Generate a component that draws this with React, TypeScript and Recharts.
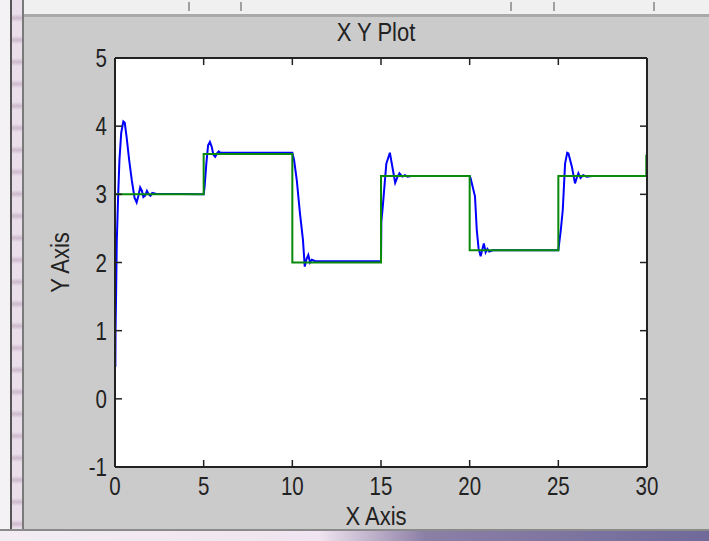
import { LineChart, Line, XAxis, YAxis } from "recharts"

const xTicks = [0, 5, 10, 15, 20, 25, 30]
const yTicks = [-1, 0, 1, 2, 3, 4, 5]

// plant response (blue)
const blueT = [
  0.02, 0.03, 0.06, 0.1, 0.18, 0.25, 0.35, 0.47, 0.55, 0.65, 0.8, 0.95, 1.1, 1.22, 1.32, 1.42, 1.52, 1.6, 1.7, 1.8, 1.9, 2.0, 2.1, 2.3, 5.0,
  5.05, 5.15, 5.25, 5.35, 5.45, 5.55, 5.65, 5.75, 5.85, 5.95, 6.1, 10.0,
  10.1, 10.25, 10.43, 10.6, 10.7, 10.8, 10.9, 11.0, 11.1, 11.3, 15.0,
  15.02, 15.1, 15.3, 15.5, 15.67, 15.8, 15.92, 16.04, 16.2, 16.35, 16.5, 16.7, 20.0,
  20.05, 20.3, 20.4, 20.5, 20.62, 20.72, 20.8, 20.9, 21.0, 21.1, 21.3, 25.0,
  25.14, 25.25, 25.38, 25.5, 25.57, 25.76, 25.94, 26.05, 26.13, 26.25, 26.4, 26.6, 26.9, 30.0,
]
const blueY = [
  0.47, 1.0, 1.5, 2.3, 3.0, 3.5, 3.9, 4.07, 4.05, 3.85, 3.5, 3.2, 2.95, 2.88, 2.98, 3.1, 3.05, 2.96, 2.98, 3.05, 3.0, 2.98, 3.02, 3.01, 3.0,
  3.1, 3.45, 3.72, 3.77, 3.7, 3.58, 3.55, 3.6, 3.63, 3.61, 3.61, 3.61,
  3.5, 3.21, 2.72, 2.33, 1.94, 2.05, 2.11, 2.0, 2.04, 2.02, 2.02,
  2.6, 2.82, 3.45, 3.61, 3.36, 3.17, 3.25, 3.31, 3.26, 3.28, 3.26, 3.27, 3.27,
  3.24, 2.97, 2.48, 2.21, 2.09, 2.2, 2.28, 2.15, 2.2, 2.16, 2.18, 2.18,
  2.48, 2.77, 3.45, 3.61, 3.6, 3.41, 3.16, 3.25, 3.31, 3.24, 3.28, 3.26, 3.27, 3.27,
]

// set point (green, step)
const greenT = [0, 5, 10, 15, 20, 25, 29.96]
const greenY = [3.0, 3.59, 2.0, 3.27, 2.18, 3.27, 3.58]

const blueData = blueT.map((t, i) => ({ t, y: blueY[i] }))
const greenData = greenT.map((t, i) => ({ t, y: greenY[i] }))

const FONT = "'Liberation Sans', Arial, Helvetica, sans-serif"
const INK = "#222"
const TM = 9 // tick margin
const TICK_LEN = 7
const axisLine = { stroke: INK, strokeWidth: 2 }
const topTicks = [188, 240, 510, 553, 653]

// plot box: left 115, top 58, right 647, bottom 467
const M = { top: 57, right: 61, bottom: 44, left: 55 }

// MATLAB-ish narrow text
const txt = (x: number, y: number, s: string, anchor: string, sx = 0.82, rot = 0) => (
  <text
    transform={`translate(${x},${y}) rotate(${rot}) scale(${sx},1)`}
    textAnchor={anchor}
    fill={INK}
    fontSize={25}
    fontFamily={FONT}
  >
    {s}
  </text>
)

const BottomTick = (p: any) => (
  <g>
    <line x1={p.x} x2={p.x} y1={p.y - TM} y2={p.y - TM - TICK_LEN} stroke={INK} strokeWidth={1.5} />
    {txt(p.x, p.y + 19, String(p.payload.value), "middle")}
  </g>
)
const TopTick = (p: any) => (
  <line x1={p.x} x2={p.x} y1={p.y + TM} y2={p.y + TM + TICK_LEN} stroke={INK} strokeWidth={1.5} />
)
const LeftTick = (p: any) => (
  <g>
    <line x1={p.x + TM} x2={p.x + TM + TICK_LEN} y1={p.y} y2={p.y} stroke={INK} strokeWidth={1.5} />
    {txt(p.x + 1, p.y + 9, String(p.payload.value), "end")}
  </g>
)
const RightTick = (p: any) => (
  <line x1={p.x - TM} x2={p.x - TM - TICK_LEN} y1={p.y} y2={p.y} stroke={INK} strokeWidth={1.5} />
)

export default function App() {
  return (
    <div style={{ position: "absolute", left: 0, top: 0, width: 709, height: 541, background: "#cbcbcb", overflow: "hidden" }}>
      {/* window chrome */}
      <div style={{ position: "absolute", left: 0, top: 0, width: 709, height: 14, background: "#f0f0f0", borderBottom: "3px solid #a9a9a9" }} />
      {topTicks.map((x) => (
        <div key={x} style={{ position: "absolute", left: x, top: 2, width: 2, height: 9, background: "#a0a0a0" }} />
      ))}
      <div style={{ position: "absolute", left: 0, top: 0, width: 10, height: 541, background: "#f4f2f4" }} />
      <div style={{ position: "absolute", left: 10, top: 0, width: 2, height: 541, background: "#555" }} />
      <div style={{ position: "absolute", left: 12, top: 0, width: 10, height: 541, background: "repeating-linear-gradient(#eadeea 0px, #eadeea 14px, #cdb9cd 18px, #eadeea 22px)" }} />
      <div style={{ position: "absolute", left: 22, top: 0, width: 2, height: 541, background: "#7a7a7a" }} />
      <div style={{ position: "absolute", left: 0, top: 529, width: 709, height: 2, background: "#8a8a8a" }} />
      <div style={{ position: "absolute", left: 0, top: 531, width: 709, height: 10, background: "linear-gradient(90deg, #f3ecf3 0%, #efe4ef 45%, #8c7fa6 60%, #6f6a9a 100%)" }} />
      {/* white axes background, behind the svg so the inward ticks stay visible */}
      <div style={{ position: "absolute", left: 115, top: 58, width: 532, height: 409, background: "#ffffff" }} />

      <div style={{ position: "absolute", left: 0, top: 0 }}>
        <LineChart width={709} height={541} margin={M}>
          <XAxis
            xAxisId="bottom"
            dataKey="t"
            type="number"
            domain={[0, 30]}
            ticks={xTicks}
            height={30}
            axisLine={axisLine}
            tickLine={false}
            tickSize={0}
            tickMargin={TM}
            tick={BottomTick}
            allowDataOverflow
            label={{ content: (p: any) => txt(p.viewBox.x + p.viewBox.width / 2 - 5, p.viewBox.y + 58, "X Axis", "middle", 0.88) }}
          />
          <XAxis
            xAxisId="top"
            orientation="top"
            dataKey="t"
            type="number"
            domain={[0, 30]}
            ticks={xTicks}
            height={1}
            axisLine={axisLine}
            tickLine={false}
            tickSize={0}
            tickMargin={TM}
            tick={TopTick}
            allowDataOverflow
            label={{ content: (p: any) => txt(p.viewBox.x + p.viewBox.width / 2 - 5, p.viewBox.y + p.viewBox.height - 17, "X Y Plot", "middle", 0.88) }}
          />
          <YAxis
            yAxisId="left"
            type="number"
            domain={[-1, 5]}
            ticks={yTicks}
            width={60}
            axisLine={axisLine}
            tickLine={false}
            tickSize={0}
            tickMargin={TM}
            tick={LeftTick}
            allowDataOverflow
            label={{ content: (p: any) => txt(p.viewBox.x + 14, p.viewBox.y + p.viewBox.height / 2, "Y Axis", "middle", 0.88, -90) }}
          />
          <YAxis
            yAxisId="right"
            orientation="right"
            type="number"
            domain={[-1, 5]}
            ticks={yTicks}
            width={1}
            axisLine={axisLine}
            tickLine={false}
            tickSize={0}
            tickMargin={TM}
            tick={RightTick}
            allowDataOverflow
          />
          {/* keeps the top/right frame axes bound to a series */}
          <Line
            data={greenData}
            xAxisId="top"
            yAxisId="right"
            dataKey="y"
            stroke="none"
            dot={false}
            activeDot={false}
            legendType="none"
            isAnimationActive={false}
          />
          <Line
            data={blueData}
            xAxisId="bottom"
            yAxisId="left"
            dataKey="y"
            type="linear"
            stroke="#0000ff"
            strokeWidth={2}
            dot={false}
            isAnimationActive={false}
          />
          <Line
            data={greenData}
            xAxisId="bottom"
            yAxisId="left"
            dataKey="y"
            type="stepAfter"
            stroke="#0a8a0a"
            strokeWidth={2}
            dot={false}
            isAnimationActive={false}
          />
        </LineChart>
      </div>
    </div>
  )
}
